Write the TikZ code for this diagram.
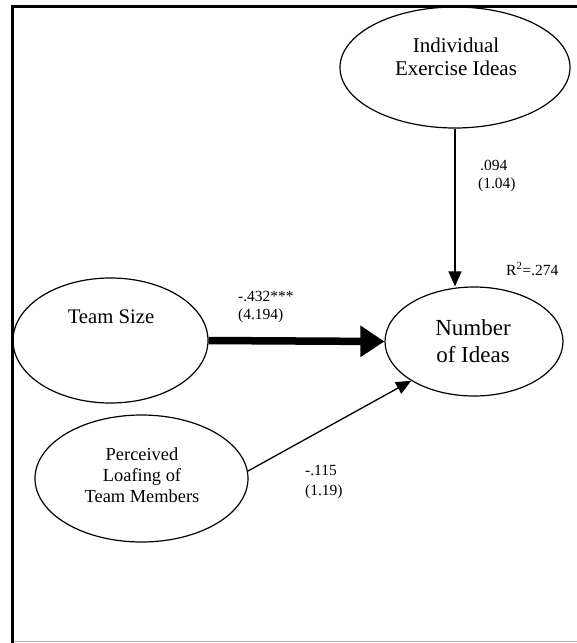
\documentclass[tikz,border=0pt]{standalone}
\usepackage{fontspec}
\setmainfont{Liberation Serif}
\usetikzlibrary{shapes.geometric,arrows.meta}
\tikzset{
  oval/.style={draw, ellipse, line width=1.2pt, inner sep=0pt},
  txt/.style={anchor=base, inner sep=0pt},
  lab/.style={anchor=base west, inner sep=0pt, font=\fontsize{15.5}{18}\selectfont},
  thinarrow/.style={line width=1.3pt, -{Triangle[length=15pt, width=13pt]}},
  thickarrow/.style={line width=7.5pt, -{Triangle[length=24pt, width=30pt]}}
}
\begin{document}
\begin{tikzpicture}[x=1pt, y=-1pt]
\useasboundingbox (0,0) rectangle (577,643);
% frame
\coordinate (tl) at (12.5,6.5);
\coordinate (tr) at (577,6.5);
\coordinate (bl) at (12.5,643);
\coordinate (bl2) at (12.5,641.5);
\coordinate (br) at (577,641.5);
\draw[gray!60, line width=1.5pt] (bl2) -- (br);
\draw[black, line width=2.2pt] (tr) -- (tl) -- (bl);

% ellipses
\node[oval, minimum width=230pt, minimum height=121pt] (iei) at (455,67.5) {};
\node[oval, minimum width=178pt, minimum height=109pt] (noi) at (474,341.5) {};
\node[oval, minimum width=195pt, minimum height=125pt] (ts) at (110.5,340.5) {};
\node[oval, minimum width=213pt, minimum height=127pt] (plt) at (141.5,478.5) {};

% ellipse texts
\node[txt, font=\fontsize{21}{24}\selectfont] (iei1) at (456,52) {Individual};
\node[txt, font=\fontsize{21}{24}\selectfont] (iei2) at (456,75.5) {Exercise Ideas};
\node[txt, font=\fontsize{20.7}{24}\selectfont] (ts1) at (111,323) {Team Size};
\node[txt, font=\fontsize{23}{27}\selectfont] (noi1) at (473,335) {Number};
\node[txt, font=\fontsize{23}{27}\selectfont] (noi2) at (473,362.5) {of Ideas};
\node[txt, font=\fontsize{18.4}{21}\selectfont] (plt1) at (142,460) {Perceived};
\node[txt, font=\fontsize{18.4}{21}\selectfont] (plt2) at (142,481) {Loafing of};
\node[txt, font=\fontsize{18.4}{21}\selectfont] (plt3) at (142,502) {Team Members};

% connectors
\draw[thinarrow] (iei.south) -- (noi.north -| iei.south);
\draw[thickarrow] (ts.east) -- (noi.west);
\draw[thinarrow] (plt.4) -- (noi.212);

% labels
\node[lab] (l1a) at (480,170) {.094};
\node[lab] (l1b) at (478,188.5) {(1.04)};
\node[lab] (r2) at (506,275) {R\textsuperscript{2}=.274};
\node[lab] (l2a) at (238,301) {-.432***};
\node[lab] (l2b) at (238,319) {(4.194)};
\node[lab] (l3a) at (305,475.5) {-.115};
\node[lab] (l3b) at (305,495) {(1.19)};
\end{tikzpicture}
\end{document}
